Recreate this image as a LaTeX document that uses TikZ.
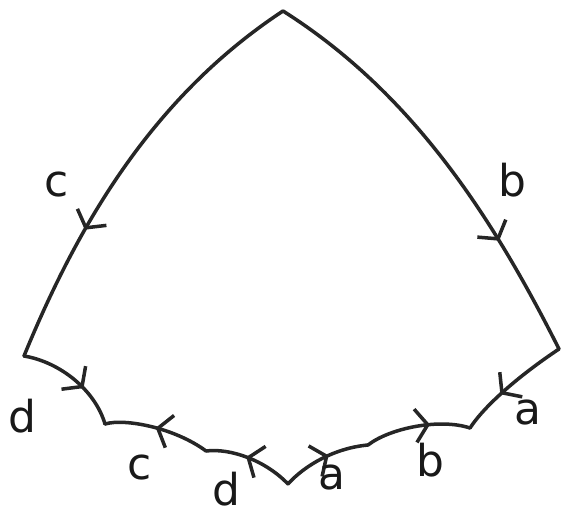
\documentclass[tikz,border=0pt]{standalone}
\usepackage{fontspec}
\newfontfamily\handfont{DejaVu Sans}
\usetikzlibrary{arrows.meta,decorations.markings}
\tikzset{
  edgeline/.style={line width=2pt, draw=black!85, line cap=round, line join=round},
  flow/.style={postaction={decorate}, decoration={markings,
               mark=at position #1 with {\arrow{Straight Barb[length=7pt,width=19pt]}}}},
  letter/.style={font=\handfont\fontsize{25}{25}\selectfont, inner sep=0pt, text=black!90},
}

\begin{document}
\begin{tikzpicture}[x=0.02cm, y=-0.02cm]
\useasboundingbox (0,0) rectangle (563,519);

% --- corners of the polygon ---
\coordinate (top) at (283,11);
\coordinate (lft) at (24,356);
\coordinate (rgt) at (559,349);
\coordinate (p1) at (105,424);
\coordinate (p2) at (206,451);
\coordinate (p3) at (288,484);
\coordinate (p4) at (368,445);
\coordinate (p5) at (470,428);

% --- two long sides ---
\draw[edgeline, flow=0.68] (top) .. controls (157,94) and (81,217) .. (lft);
\draw[edgeline, flow=0.72] (top) .. controls (411,92) and (491,214) .. (rgt);

% --- bottom chain ---
\draw[edgeline, flow=0.62] (lft) .. controls (60,362) and (95,390) .. (p1);
\draw[edgeline, flow=0.52] (p2) .. controls (175,428) and (125,418) .. (p1);
\draw[edgeline, flow=0.55] (p3) .. controls (265,460) and (230,448) .. (p2);
\draw[edgeline, flow=0.55] (p3) .. controls (305,465) and (335,448) .. (p4);
\draw[edgeline, flow=0.62] (p4) .. controls (390,428) and (440,418) .. (p5);
\draw[edgeline, flow=0.62] (rgt) .. controls (520,375) and (485,405) .. (p5);

% --- edge letters ---
\node[letter] (lc1) at (57,185) {c};
\node[letter] (lb1) at (512,180) {b};
\node[letter] (ld1) at (22,416) {d};
\node[letter] (lc2) at (140,468) {c};
\node[letter] (ld2) at (226,489) {d};
\node[letter] (la1) at (332,478) {a};
\node[letter] (lb2) at (430,460) {b};
\node[letter] (la2) at (528,413) {a};

\end{tikzpicture}
\end{document}
